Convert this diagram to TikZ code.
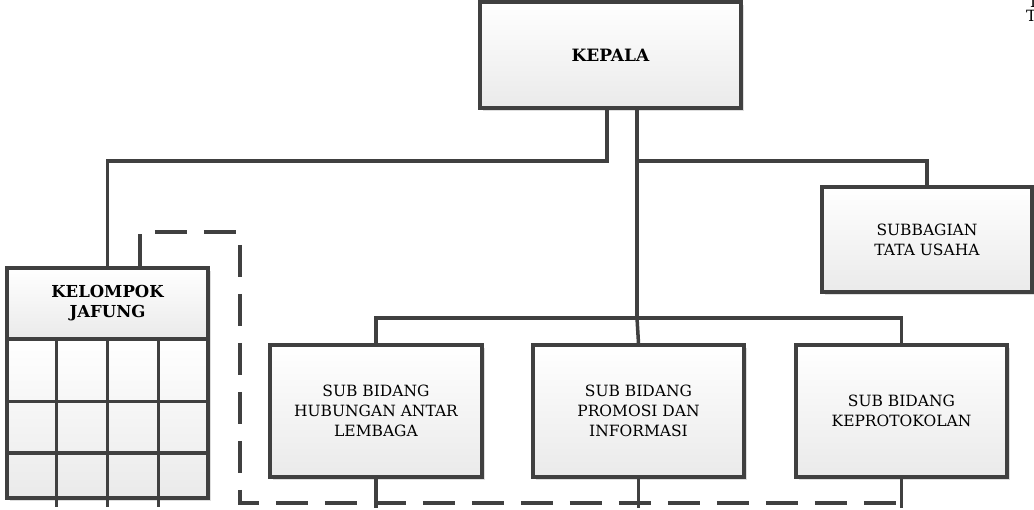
\documentclass[tikz,border=0pt]{standalone}
\usepackage{fontspec}
\setmainfont{DejaVu Serif}
\usepackage{tikz}
\usetikzlibrary{positioning, calc, shadows}
\definecolor{linegray}{RGB}{64,64,64}
\definecolor{boxshade}{RGB}{234,234,234}
\definecolor{shadowgray}{RGB}{190,190,190}
\tikzset{
  basebox/.style={rectangle,draw=linegray,line width=3.5pt,top color=white,bottom color=boxshade,
    align=center,inner sep=0pt,font=\fontsize{15.5}{20}\selectfont,
    drop shadow={shadow xshift=3pt,shadow yshift=-3pt,fill=shadowgray,opacity=0.5}},
  headnode/.style={basebox,minimum width=261pt,minimum height=106pt,font=\fontsize{17}{20}\selectfont\bfseries},
  tunode/.style={basebox,minimum width=210pt,minimum height=105pt},
  subnode/.style={basebox,minimum width=211pt,minimum height=132pt},
  jafnode/.style={basebox,minimum width=201pt,minimum height=71pt,font=\fontsize{16.5}{20}\selectfont\bfseries},
  gridnode/.style={basebox,minimum width=201pt,minimum height=159pt},
  notetext/.style={inner sep=0pt,align=left,font=\fontsize{15.5}{14}\selectfont},
  orgline/.style={draw=linegray,line width=3.5pt},
  dashline/.style={draw=linegray,line width=3.5pt,dash pattern=on 32pt off 17pt}
}

\begin{document}
\begin{tikzpicture}[x=1pt,y=-1pt]
  \useasboundingbox[fill=white] (0,0) rectangle (1034,509);

  %% Top level
  \node[headnode] (kepala) at (610.5,55) {KEPALA};
  \node[tunode] (tu) at (927,239.5) {SUBBAGIAN\\TATA USAHA};

  %% Sub bidang row
  \node[subnode,minimum width=212pt] (sbA) at (376,411) {SUB BIDANG\\HUBUNGAN ANTAR\\LEMBAGA};
  \node[subnode] (sbB) at (638.5,411) {SUB BIDANG\\PROMOSI DAN\\INFORMASI};
  \node[subnode] (sbC) at (901.5,411) {SUB BIDANG\\KEPROTOKOLAN};

  %% Kelompok jabatan fungsional
  \node[jafnode] (jafung) at (107.5,303.5) {KELOMPOK\\JAFUNG};
  \node[gridnode] (jafgrid) at (107.5,418.5) {};
  \foreach \f in {0.396,0.711}
    \draw[orgline] ($(jafgrid.north west)!\f!(jafgrid.south west)$) -- ($(jafgrid.north east)!\f!(jafgrid.south east)$);
  \foreach \f in {0.25,0.5,0.75}
    \draw[orgline] ($(jafgrid.north west)!\f!(jafgrid.north east)$) -- ($(jafgrid.south west)!\f!(jafgrid.south east)+(0,7)$);

  %% Cut-off note at the right edge
  \node[notetext,anchor=north west] (note) at (1026,-4.3) {\hspace{4pt}I\\T};

  %% Command lines
  \coordinate (splitL) at (607,161);
  \coordinate (splitR) at (637,161);
  \coordinate (busB) at (637,318);
  \draw[orgline] (kepala.south -| splitL) -- (splitL) -| (jafung.north);
  \draw[orgline] (kepala.south -| splitR) -- (busB);
  \draw[orgline] (splitR) -| (tu.north);
  \draw[orgline] (sbA.north) |- (busB) -| (sbC.north);
  \draw[orgline] (busB) -- (sbB.north);

  %% Coordination line
  \coordinate (dashA) at (140,232);
  \coordinate (dashB) at (240,232);
  \coordinate (dashC) at (240,503);
  \draw[dashline] (jafung.north -| dashA) -- (dashA) -- (dashB) -- (dashC) -- (dashC -| sbC.south);
  \foreach \n in {sbA,sbB,sbC}
    \draw[orgline] (\n.south) -- ++(0,29);
\end{tikzpicture}
\end{document}
